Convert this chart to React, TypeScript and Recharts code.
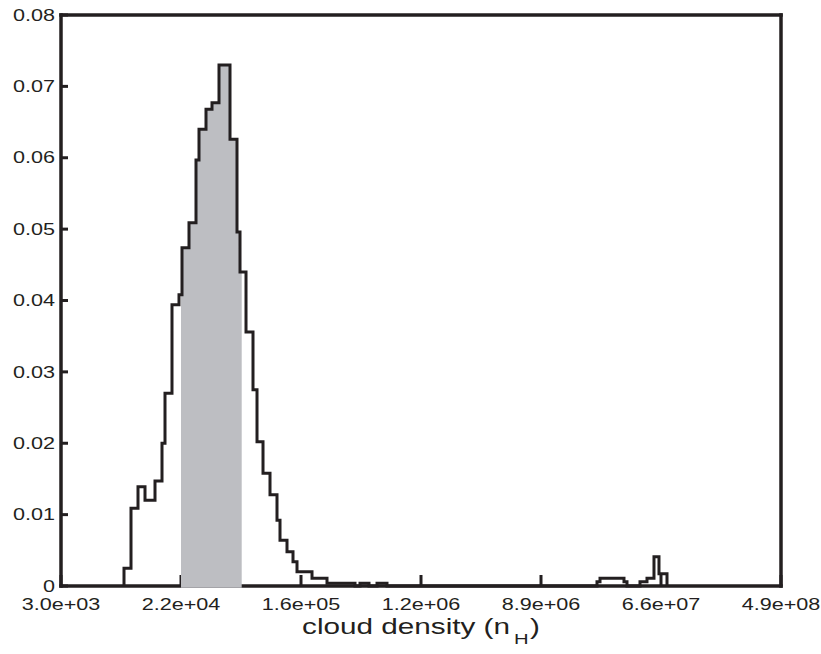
import React from 'react';
import { ComposedChart, Line, Area, XAxis, YAxis, Label } from 'recharts';

// Histogram of cloud densities: left bin edges (cm^-3) plus the closing edge of the last bin.
const binEdges = [
  8573, 9634, 10826, 12166, 14372, 16151, 16979, 19079, 21440, 22540,
  25330, 28463, 29923, 33626, 37162, 41761, 50163, 56372, 59265, 65502,
  73598, 78683, 86961, 97709, 109794, 115424, 129710, 143352, 153241, 196770,
  252635, 402867, 437880, 508760, 581410, 686700, 22740000, 23910000, 35660000, 37490000,
  46560000, 52320000, 58790000, 63900000, 73030000,
];

// Fraction of models in each bin (one value per bin).
const binFractions = [
  0.0025, 0.0109, 0.0139, 0.012, 0.0147, 0.02, 0.027, 0.0394, 0.0408, 0.0474,
  0.0509, 0.0597, 0.064, 0.0668, 0.0677, 0.073, 0.0626, 0.0496, 0.044, 0.0356,
  0.0275, 0.0202, 0.0158, 0.0128, 0.0092, 0.0064, 0.0048, 0.0034, 0.002, 0.0011,
  0.0004, 0, 0.0004, 0, 0.0004, 0, 0.0006, 0.0011, 0.0006, 0,
  0.0006, 0.0011, 0.0041, 0.0017,
];

// Density interval highlighted in grey.
const shadedBand = [22167, 60969];

const xTickValues = [3000, 22167, 163794, 1210286, 8942874, 66079397, 488264374];
const xTickLabels = ['3.0e+03', '2.2e+04', '1.6e+05', '1.2e+06', '8.9e+06', '6.6e+07', '4.9e+08'];
const yTickValues = [0, 0.01, 0.02, 0.03, 0.04, 0.05, 0.06, 0.07, 0.08];
const yTickLabels = ['0', '0.01', '0.02', '0.03', '0.04', '0.05', '0.06', '0.07', '0.08'];

const INK = '#231f20';
const SHADE = '#bdbec2';
const FONT = '"Liberation Sans", Arial, Helvetica, sans-serif';
const STRETCH = 1.35;

function fractionAt(n: number): number {
  for (let i = 0; i < binFractions.length; i++) {
    if (n >= binEdges[i] && n < binEdges[i + 1]) return binFractions[i];
  }
  return 0;
}

const edgePoints = [...binEdges, ...shadedBand].sort((a, b) => a - b);
const chartData = [
  { n: binEdges[0], frac: 0, shade: null as number | null },
  ...edgePoints.map((n) => {
    const f = fractionAt(n);
    return { n, frac: f, shade: n >= shadedBand[0] && n <= shadedBand[1] ? f : null };
  }),
];

const XTick = (props: any) => {
  const { x, y, index } = props;
  return (
    <g transform={`translate(${x},${y}) scale(${STRETCH},1)`}>
      <text x={0} y={0} dy={11.5} textAnchor="middle" fontFamily={FONT} fontSize={16} fill={INK}>
        {xTickLabels[index]}
      </text>
    </g>
  );
};

const YTick = (props: any) => {
  const { x, y, index } = props;
  return (
    <g transform={`translate(${x},${y}) scale(${STRETCH},1)`}>
      <text x={0} y={0} dy={5.7} textAnchor="end" fontFamily={FONT} fontSize={16} fill={INK}>
        {yTickLabels[index]}
      </text>
    </g>
  );
};

const AxisTitle = (props: any) => {
  const vb = props.viewBox;
  const cx = vb.x + vb.width / 2;
  const y = vb.y + 48;
  return (
    <g transform={`translate(${cx},${y}) scale(${STRETCH},1)`}>
      <text x={0} y={0} textAnchor="middle" fontFamily={FONT} fontSize={22} fill={INK}>
        cloud density (n
        <tspan fontSize={15} dx={3} dy={10}>H</tspan>
        <tspan dx={1} dy={-10}>)</tspan>
      </text>
    </g>
  );
};

const frameLine = { stroke: INK, strokeWidth: 3.5, strokeLinecap: 'square' as const };
const tickMark = { stroke: INK, strokeWidth: 3 };

export default function App() {
  return (
    <div style={{ position: 'absolute', left: 0, top: 0, background: '#fff' }}>
      <ComposedChart
        width={821}
        height={654}
        data={chartData}
        margin={{ top: 14, right: 39, bottom: 0, left: 0 }}
      >
        <XAxis
          xAxisId="b"
          dataKey="n"
          type="number"
          scale="log"
          domain={[3000, 488264374]}
          ticks={xTickValues}
          interval={0}
          height={68}
          axisLine={frameLine}
          tickLine={tickMark}
          tickSize={-11}
          tickMargin={23}
          tick={<XTick />}
        >
          <Label content={<AxisTitle />} />
        </XAxis>
        <XAxis
          xAxisId="t"
          orientation="top"
          dataKey="n"
          type="number"
          scale="log"
          domain={[3000, 488264374]}
          ticks={xTickValues}
          interval={0}
          height={1}
          axisLine={frameLine}
          tickLine={tickMark}
          tickSize={-11}
          tick={false}
        />
        <YAxis
          yAxisId="l"
          type="number"
          domain={[0, 0.08]}
          ticks={yTickValues}
          interval={0}
          width={61}
          axisLine={frameLine}
          tickLine={tickMark}
          tickSize={-7}
          tickMargin={13}
          tick={<YTick />}
        />
        <YAxis
          yAxisId="r"
          orientation="right"
          type="number"
          domain={[0, 0.08]}
          ticks={yTickValues}
          interval={0}
          width={1}
          axisLine={frameLine}
          tickLine={tickMark}
          tickSize={-7}
          tick={false}
        />
        <Area
          xAxisId="b"
          yAxisId="l"
          dataKey="shade"
          type="stepAfter"
          fill={SHADE}
          fillOpacity={1}
          stroke="none"
          baseValue={-0.00025}
          connectNulls={false}
          dot={false}
          activeDot={false}
          isAnimationActive={false}
          zIndex={550}
        />
        <Line
          xAxisId="b"
          yAxisId="l"
          dataKey="frac"
          type="stepAfter"
          stroke={INK}
          strokeWidth={3}
          dot={false}
          activeDot={false}
          isAnimationActive={false}
          zIndex={600}
        />
      </ComposedChart>
    </div>
  );
}
